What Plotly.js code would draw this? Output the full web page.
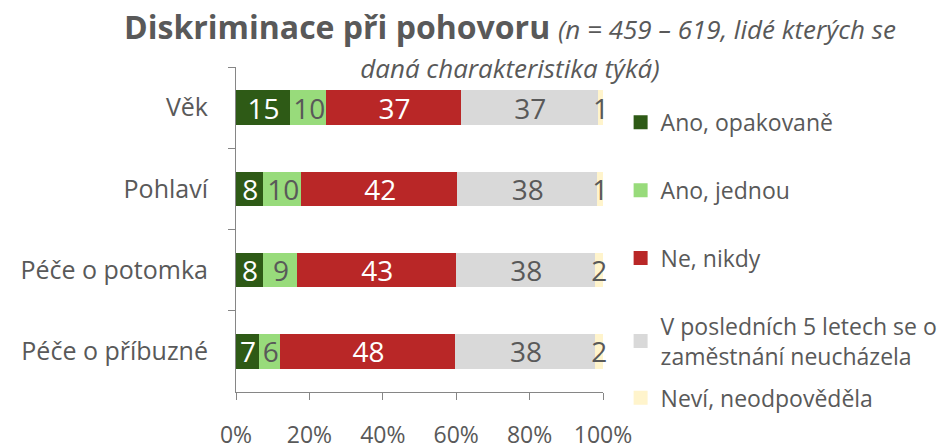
<!DOCTYPE html>
<html><head><meta charset="utf-8">
<script src="https://cdn.plot.ly/plotly-3.0.1.min.js"></script>
<style>html,body{margin:0;padding:0;background:#fff}</style>
</head><body><div id="chart" style="width:938px;height:443px"></div>
<script>
const categories = ["Věk", "Pohlaví", "Péče o potomka", "Péče o příbuzné"];
const seriesNames = ["Ano, opakovaně", "Ano, jednou", "Ne, nikdy", "V posledních 5 letech se o<br>zaměstnání neucházela", "Neví, neodpověděla"];
const anoOpakovane = [15.0, 7.7, 7.6, 6.6];
const anoJednou = [9.9, 10.4, 9.3, 5.7];
const neNikdy = [36.6, 42.4, 43.2, 47.6];
const neuchazela = [37.4, 38.0, 38.0, 38.2];
const nevi = [1.1, 1.5, 1.8, 1.8];
const labelsOpakovane = ["15", "8", "8", "7"];
const labelsJednou = ["10", "10", "9", "6"];
const labelsNikdy = ["37", "42", "43", "48"];
const labelsNeuchazela = ["37", "38", "38", "38"];
const labelsNevi = ["1", "1", "2", "2"];
const xTickVals = [0, 20, 40, 60, 80, 100];
const xTickText = ["0%", "20%", "40%", "60%", "80%", "100%"];

const colors = ["#2E5A16", "#98DB7B", "#B92727", "#D9D9D9", "#FFF4CC"];
const textColors = ["#FFFFFF", "#595959", "#FFFFFF", "#595959", "#595959"];
const values = [anoOpakovane, anoJednou, neNikdy, neuchazela, nevi];
const labels = [labelsOpakovane, labelsJednou, labelsNikdy, labelsNeuchazela, labelsNevi];
const legendIds = ["legend", "legend", "legend", "legend", "legend2"];
const FONT = "'Open Sans', sans-serif";

const traces = values.map((v, i) => ({
  type: "bar",
  orientation: "h",
  name: seriesNames[i],
  legend: legendIds[i],
  legendgroup: "g" + i,
  y: categories,
  x: v,
  text: labels[i],
  textposition: "inside",
  insidetextanchor: "middle",
  textangle: 0,
  constraintext: "none",
  cliponaxis: false,
  insidetextfont: {family: FONT, size: 28, color: textColors[i]},
  marker: {color: colors[i], line: {color: colors[i], width: 2}},
  hoverinfo: "none"
}));

const legendFont = {family: FONT, size: 23, color: "#595959"};

const layout = {
  width: 938, height: 443,
  margin: {l: 236, r: 335, t: 67, b: 51, autoexpand: false},
  paper_bgcolor: "#FFFFFF", plot_bgcolor: "#FFFFFF",
  barmode: "stack",
  bargap: 0.6,
  font: {family: FONT, color: "#595959"},
  title: {
    text: "<span style='font-size:32px'><b>Diskriminace při pohovoru</b></span> <i><span style='font-size:26px'>(n = 459 – 619, lidé kterých se</span></i><br><i><span style='font-size:26px'>daná charakteristika týká)</span></i>",
    font: {family: FONT, size: 30, color: "#595959"},
    x: 0.5437, xanchor: "center", xref: "container",
    y: 0.913, yanchor: "top", yref: "container"
  },
  xaxis: {
    range: [0, 100],
    tickmode: "array",
    tickvals: xTickVals,
    ticktext: xTickText,
    showgrid: false, zeroline: false,
    showline: true, linecolor: "#868686", linewidth: 1,
    ticks: "outside", ticklen: 7, tickcolor: "#868686",
    ticklabelstandoff: 15,
    tickfont: {family: FONT, size: 23, color: "#595959"},
    fixedrange: true
  },
  yaxis: {
    type: "category",
    autorange: "reversed",
    showgrid: false, zeroline: false,
    showline: true, linecolor: "#868686", linewidth: 1,
    ticks: "outside", ticklen: 7, tickcolor: "#868686",
    tickson: "boundaries",
    ticklabelstandoff: 22,
    tickfont: {family: FONT, size: 25, color: "#595959"},
    fixedrange: true
  },
  legend: {
    x: 1.048, xanchor: "left", xref: "paper",
    y: 0.896, yanchor: "top",
    traceorder: "grouped",
    tracegroupgap: 35,
    font: legendFont,
    itemclick: false, itemdoubleclick: false,
    bgcolor: "rgba(0,0,0,0)"
  },
  legend2: {
    x: 1.048, xanchor: "left", xref: "paper",
    y: -0.018, yanchor: "middle",
    font: legendFont,
    itemclick: false, itemdoubleclick: false,
    bgcolor: "rgba(0,0,0,0)"
  },
  showlegend: true
};

Plotly.newPlot("chart", traces, layout, {displayModeBar: false, staticPlot: true});
</script>
</body></html>
